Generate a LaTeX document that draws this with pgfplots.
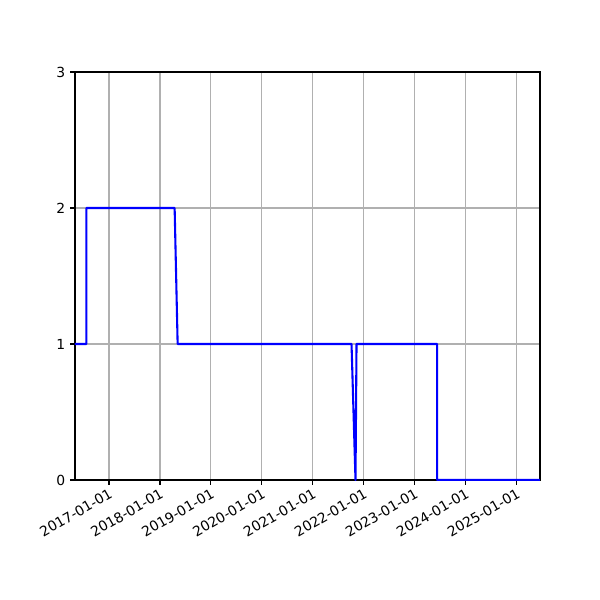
\documentclass[border=0pt]{standalone}
\usepackage{fontspec}
\setmainfont{DejaVu Sans}
\usepackage{pgfplots}
\pgfplotsset{compat=1.18}
\definecolor{gridgray}{HTML}{B0B0B0}
\begin{document}
\begin{tikzpicture}
\begin{axis}[
  at={(0,0)}, anchor=south west,
  scale only axis,
  width=334.8pt, height=293.76pt,
  xmin=2016.333, xmax=2025.457,
  ymin=0, ymax=3,
  xtick={2017,2018,2019,2020,2021,2022,2023,2024,2025},
  xticklabels={2017-01-01,2018-01-01,2019-01-01,2020-01-01,2021-01-01,2022-01-01,2023-01-01,2024-01-01,2025-01-01},
  ytick={0,1,2,3},
  yticklabels={0,1,2,3},
  x tick label style={rotate=30, anchor=north east, font=\fontsize{10}{12}\selectfont, inner sep=1.5pt},
  y tick label style={font=\fontsize{10}{12}\selectfont},
  tick align=outside,
  xtick pos=bottom, ytick pos=left,
  major tick length=3.5pt,
  tick style={black, line width=0.8pt},
  axis line style={line width=0.8pt},
  grid=major,
  grid style={gridgray, line width=0.8pt},
]
\addplot[blue, line width=1.5pt, line join=round] coordinates {
(2016.333,1) (2016.557,1) (2016.557,2) (2018.288,2) (2018.347,1)
(2021.759,1) (2021.837,0) (2021.857,1) (2023.44,1) (2023.44,0) (2025.457,0)
};
\end{axis}
\path[use as bounding box] (-54pt,-86.4pt) rectangle (378pt,345.6pt);
\end{tikzpicture}
\end{document}
